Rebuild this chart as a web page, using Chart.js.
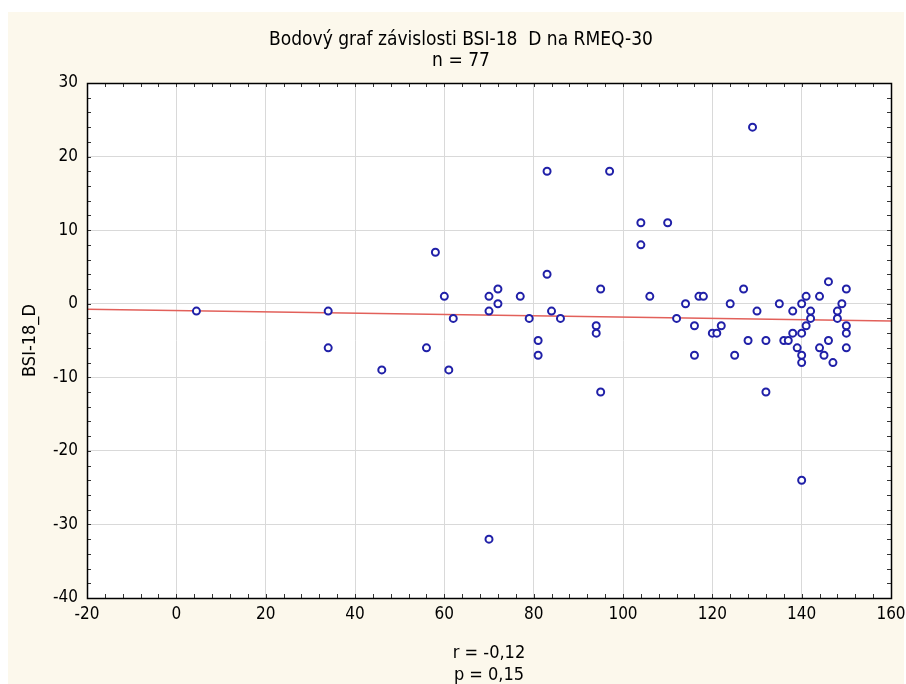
<!DOCTYPE html>
<html><head><meta charset="utf-8">
<script src="https://cdn.jsdelivr.net/npm/chart.js@4/dist/chart.umd.min.js"></script>
<style>html,body{margin:0;padding:0;background:#fff;}canvas{display:block;}</style>
</head><body>
<canvas id="c" width="906" height="684"></canvas>
<script>
// ---- data ----
const chartTitle = 'Bodový graf závislosti BSI-18  D na RMEQ-30';
const chartSubtitle = 'n = 77';
const xAxisLabel = ['r = -0,12', 'p = 0,15'];
const yAxisLabel = 'BSI-18_D';
const rmeqValues = [4.5, 34, 34, 46, 56, 58, 60, 61, 62, 70, 70, 70, 72, 72, 77, 79, 81, 81, 83, 83,
  84, 86, 94, 94, 95, 95, 97, 104, 104, 106, 110, 112, 114, 116, 116, 117, 118, 120, 121, 122,
  124, 125, 127, 128, 129, 130, 132, 132, 135, 136, 137, 138, 138, 139, 140, 140, 140, 140, 140, 141,
  141, 142, 142, 144, 144, 145, 146, 146, 147, 148, 148, 149, 150, 150, 150, 150];
const bsiValues = [-1, -1, -6, -9, -6, 7, 1, -9, -2, 1, -1, -32, 2, 0, 1, -2, -5, -7, 18, 4,
  -1, -2, -3, -4, 2, -12, 18, 11, 8, 1, 11, -2, 0, -3, -7, 1, 1, -4, -4, -3,
  0, -7, 2, -5, 24, -1, -5, -12, 0, -5, -5, -1, -4, -6, 0, -4, -7, -8, -24, 1,
  -3, -1, -2, 1, -6, -7, 3, -5, -8, -1, -2, 0, 2, -3, -4, -6];
const fitX = [-20, 160];
const fitY = [-0.75, -2.35];
const xTicks = [-20, 0, 20, 40, 60, 80, 100, 120, 140, 160];
const yTicks = [-40, -30, -20, -10, 0, 10, 20, 30];
const xMinorStep = 4;
const yMinorStep = 2;

// ---- styling ----
const FONT = "'Liberation Sans Narrow', 'Arial Narrow', 'DejaVu Sans Condensed', sans-serif";
const BG = '#fcf8ec';

const frame = {
  id: 'frame',
  beforeDraw(chart) {
    const {ctx, chartArea: a} = chart;
    ctx.save();
    ctx.fillStyle = '#ffffff';
    ctx.fillRect(0, 0, chart.width, chart.height);
    ctx.fillStyle = BG;
    ctx.fillRect(8, 12, chart.width - 10, chart.height - 12);
    ctx.fillStyle = '#ffffff';
    ctx.fillRect(a.left, a.top, a.right - a.left, a.bottom - a.top);
    ctx.restore();
  },
  afterDraw(chart) {
    const {ctx, chartArea: a, scales} = chart;
    const xs = scales.x, ys = scales.y;
    ctx.save();
    ctx.strokeStyle = '#333333';
    ctx.lineWidth = 1;
    ctx.beginPath();
    for (let v = xs.min; v <= xs.max + 1e-9; v += xMinorStep) {
      const px = Math.round(xs.getPixelForValue(v)) + 0.5;
      ctx.moveTo(px, a.top); ctx.lineTo(px, a.top + 4);
      ctx.moveTo(px, a.bottom); ctx.lineTo(px, a.bottom - 4);
    }
    for (let v = ys.min; v <= ys.max + 1e-9; v += yMinorStep) {
      const py = Math.round(ys.getPixelForValue(v)) + 0.5;
      ctx.moveTo(a.left, py); ctx.lineTo(a.left + 4, py);
      ctx.moveTo(a.right, py); ctx.lineTo(a.right - 4, py);
    }
    ctx.stroke();
    ctx.strokeStyle = '#000000';
    ctx.lineWidth = 1.5;
    ctx.strokeRect(Math.round(a.left) + 0.5, Math.round(a.top) + 0.5,
      Math.round(a.right - a.left), Math.round(a.bottom - a.top));
    ctx.restore();
  }
};

const points = rmeqValues.map((x, i) => ({x, y: bsiValues[i]}));
const fitLine = fitX.map((x, i) => ({x, y: fitY[i]}));

new Chart(document.getElementById('c'), {
  type: 'scatter',
  data: {
    datasets: [
      {
        label: 'BSI-18_D',
        data: points,
        pointStyle: 'circle',
        pointRadius: 3.5,
        pointBorderWidth: 2,
        borderColor: '#2020a8',
        backgroundColor: '#ffffff',
        showLine: false
      },
      {
        type: 'line',
        label: 'fit',
        data: fitLine,
        borderColor: '#e2605a',
        borderWidth: 1.6,
        pointRadius: 0,
        fill: false
      }
    ]
  },
  options: {
    responsive: false,
    animation: false,
    devicePixelRatio: 1,
    layout: {padding: {left: 16, right: 0, top: 0, bottom: 0}},
    plugins: {
      legend: {display: false},
      tooltip: {enabled: false},
      title: {
        display: true,
        text: chartTitle,
        color: '#000',
        font: {family: FONT, size: 19, weight: 'normal', lineHeight: 1},
        padding: {top: 30.5, bottom: 0}
      },
      subtitle: {
        display: true,
        text: chartSubtitle,
        color: '#000',
        font: {family: FONT, size: 19, weight: 'normal', lineHeight: 1},
        padding: {top: 2, bottom: 12.5}
      }
    },
    scales: {
      x: {
        type: 'linear',
        min: -20, max: 160,
        afterBuildTicks: s => { s.ticks = xTicks.map(v => ({value: v})); },
        afterFit: s => { s.height = 86; s.paddingLeft = 0; s.paddingRight = 0; },
        grid: {color: '#d9d9d9', lineWidth: 1, drawTicks: false},
        border: {display: false},
        ticks: {color: '#000', font: {family: FONT, size: 17}, padding: 6, maxRotation: 0},
        title: {
          display: true, text: xAxisLabel, color: '#000',
          font: {family: FONT, size: 18, lineHeight: '22px'},
          padding: {top: 0, bottom: -2}
        }
      },
      y: {
        type: 'linear',
        min: -40, max: 30,
        afterBuildTicks: s => { s.ticks = yTicks.map(v => ({value: v})); },
        afterFit: s => { s.width = 71; s.paddingTop = 0; s.paddingBottom = 0; },
        grid: {color: '#d9d9d9', lineWidth: 1, drawTicks: false},
        border: {display: false},
        ticks: {color: '#000', font: {family: FONT, size: 17}, padding: 9},
        title: {
          display: true, text: yAxisLabel, color: '#000',
          font: {family: FONT, size: 18, lineHeight: 1.2},
          padding: {top: 3.2, bottom: 0}
        }
      },
      yRight: {
        type: 'linear',
        position: 'right',
        min: -40, max: 30,
        afterFit: s => { s.width = 15; },
        grid: {display: false},
        border: {display: false},
        ticks: {display: false}
      }
    }
  },
  plugins: [frame]
});
</script>
</body></html>
